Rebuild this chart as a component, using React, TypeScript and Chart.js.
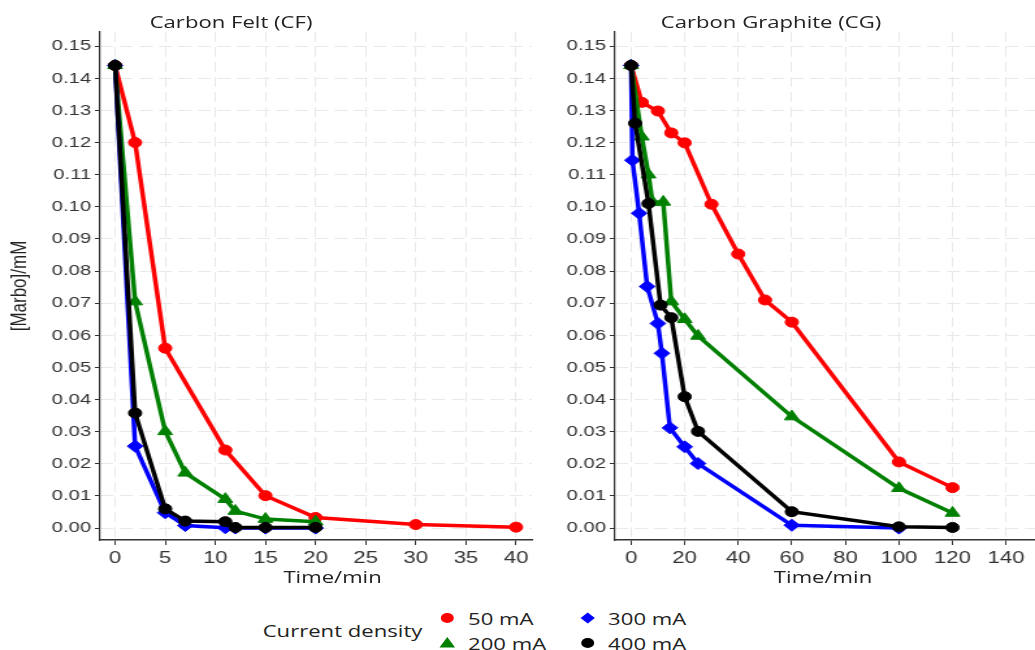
import React, { useEffect, useRef } from 'react';
import { Chart, registerables } from 'chart.js';

Chart.register(...registerables);

// horizontal stretch of the whole figure
const S = 1035 / 796;

// ---------- Carbon Felt (CF) ----------
const cfTime50 = [0, 2, 5, 11, 15, 20, 30, 40];
const cfVal50 = [0.144, 0.12, 0.056, 0.0243, 0.0101, 0.0033, 0.0011, 0.0003];
const cfTime200 = [0, 2, 5, 7, 11, 12, 15, 20];
const cfVal200 = [0.144, 0.0705, 0.0301, 0.0172, 0.009, 0.0053, 0.0028, 0.002];
const cfTime300 = [0, 2, 5, 7, 11, 12, 15, 20];
const cfVal300 = [0.144, 0.0255, 0.0048, 0.0008, 0.0001, 0, 0, 0];
const cfTime400 = [0, 2, 5, 7, 11, 12, 15, 20];
const cfVal400 = [0.144, 0.0358, 0.006, 0.0022, 0.002, 0.0002, 0.0002, 0.0002];

// ---------- Carbon Graphite (CG) ----------
const cgTime50 = [0, 4, 10, 15, 20, 30, 40, 50, 60, 100, 120];
const cgVal50 = [0.144, 0.1325, 0.1298, 0.123, 0.1199, 0.1008, 0.0853, 0.071, 0.0641, 0.0206, 0.0126];
const cgTime200 = [0, 4, 6.5, 8, 12, 15, 20, 25, 60, 100, 120];
const cgVal200 = [0.144, 0.1218, 0.11, 0.1015, 0.1015, 0.0705, 0.065, 0.0598, 0.0347, 0.0124, 0.0047];
const cgTime300 = [0, 0.5, 3, 6, 10, 11.5, 14.5, 20, 25, 60, 100];
const cgVal300 = [0.144, 0.1145, 0.098, 0.0752, 0.0637, 0.0544, 0.0312, 0.0253, 0.0201, 0.0009, 0];
const cgTime400 = [0, 1.5, 6.5, 11, 15, 20, 25, 60, 100, 120];
const cgVal400 = [0.144, 0.126, 0.101, 0.0694, 0.0655, 0.0409, 0.0301, 0.0051, 0.0004, 0.0002];

// ---------- ticks ----------
const yTickValues = [0, 0.01, 0.02, 0.03, 0.04, 0.05, 0.06, 0.07, 0.08, 0.09, 0.1, 0.11, 0.12, 0.13, 0.14, 0.15];
const cfXTicks = [0, 5, 10, 15, 20, 25, 30, 35, 40];
const cgXTicks = [0, 20, 40, 60, 80, 100, 120, 140];

const seriesNames = ['50 mA', '200 mA', '300 mA', '400 mA'];
const seriesColors = ['#ff0000', '#008000', '#0000ff', '#000000'];
const seriesShapes = ['circle', 'triangle', 'rectRot', 'circle'];
const seriesRadius = [5, 6.5, 6, 5];
const seriesOrder = [3, 2, 1, 0];

const panelTitles = ['Carbon Felt (CF)', 'Carbon Graphite (CG)'];
const xTitle = 'Time/min';
const yTitle = '[Marbo]/mM';
const legendTitle = 'Current density';

function buildDatasets(times: number[][], vals: number[][]) {
  return times.map((t, i) => ({
    label: seriesNames[i],
    data: t.map((x, j) => ({ x, y: vals[i][j] })),
    borderColor: seriesColors[i],
    backgroundColor: seriesColors[i],
    pointBackgroundColor: seriesColors[i],
    pointBorderColor: seriesColors[i],
    borderWidth: 3.5,
    pointStyle: seriesShapes[i],
    pointRadius: seriesRadius[i],
    pointBorderWidth: 1,
    tension: 0,
    fill: false,
    order: seriesOrder[i],
  }));
}

function makeConfig(opts: {
  times: number[][];
  vals: number[][];
  xTicks: number[];
  xMin: number;
  xMax: number;
  yWidth: number;
  padRight: number;
  showYTitle: boolean;
}): any {
  const tickFont = { family: 'Liberation Sans', size: 15.5 };
  return {
    type: 'line',
    data: { datasets: buildDatasets(opts.times, opts.vals) },
    options: {
      responsive: false,
      animation: false,
      events: [],
      layout: { autoPadding: false, padding: { top: 32, right: opts.padRight, left: 0, bottom: 0 } },
      plugins: { legend: { display: false }, tooltip: { enabled: false }, title: { display: false } },
      scales: {
        x: {
          type: 'linear',
          min: opts.xMin,
          max: opts.xMax,
          afterBuildTicks: (s: any) => {
            s.ticks = opts.xTicks.map((v) => ({ value: v }));
          },
          afterFit: (s: any) => {
            s.height = 60;
          },
          grid: { color: '#e9e9e9', lineWidth: 1, tickLength: 5, tickColor: '#333', tickWidth: 1 },
          border: { display: true, color: '#333', width: 1.5, dash: [10, 5] },
          ticks: {
            font: { family: 'Liberation Sans', size: 17 },
            color: '#333',
            padding: 3,
            maxRotation: 0,
            autoSkip: false,
          },
        },
        y: {
          type: 'linear',
          min: -0.0037,
          max: 0.1544,
          afterBuildTicks: (s: any) => {
            s.ticks = yTickValues.map((v) => ({ value: v }));
          },
          afterFit: (s: any) => {
            s.width = opts.yWidth;
          },
          grid: { color: '#e9e9e9', lineWidth: 1, tickLength: 4, tickColor: '#333', tickWidth: 1 },
          border: { display: true, color: '#333', width: 1.2, dash: [10, 5] },
          ticks: {
            font: tickFont,
            color: '#333',
            padding: 3,
            autoSkip: false,
            callback: (v: any) => Number(v).toFixed(2),
          },
          title: {
            display: opts.showYTitle,
            text: yTitle,
            font: { family: 'Liberation Sans', size: 17 },
            color: '#222',
            padding: { top: 5, bottom: 0 },
          },
        },
      },
    },
  };
}

function Marker({ shape, color, cx, cy }: { shape: string; color: string; cx: number; cy: number }) {
  const size = 16;
  let el: any;
  if (shape === 'circle') el = <circle cx={8} cy={8} r={5} fill={color} />;
  else if (shape === 'triangle') el = <polygon points="8,2 14,12.5 2,12.5" fill={color} />;
  else el = <polygon points="8,2.5 13.5,8 8,13.5 2.5,8" fill={color} />;
  return (
    <svg
      width={size}
      height={size}
      style={{ position: 'absolute', left: cx - 8, top: cy - 8 }}
      viewBox="0 0 16 16"
    >
      {el}
    </svg>
  );
}

const textFont = "'Open Sans', 'Noto Sans', sans-serif";

export default function App() {
  const leftRef = useRef<HTMLCanvasElement>(null);
  const rightRef = useRef<HTMLCanvasElement>(null);

  useEffect(() => {
    const left = new Chart(
      leftRef.current as HTMLCanvasElement,
      makeConfig({
        times: [cfTime50, cfTime200, cfTime300, cfTime400],
        vals: [cfVal50, cfVal200, cfVal300, cfVal400],
        xTicks: cfXTicks,
        xMin: -1.49,
        xMax: 41.57,
        yWidth: 77,
        padRight: 3,
        showYTitle: true,
      })
    );
    const right = new Chart(
      rightRef.current as HTMLCanvasElement,
      makeConfig({
        times: [cgTime50, cgTime200, cgTime300, cgTime400],
        vals: [cgVal50, cgVal200, cgVal300, cgVal400],
        xTicks: cgXTicks,
        xMin: -6.0,
        xMax: 150.8,
        yWidth: 61,
        padRight: 0,
        showYTitle: false,
      })
    );
    return () => {
      left.destroy();
      right.destroy();
    };
  }, []);

  const txt = (extra: any) => ({
    position: 'absolute' as const,
    fontFamily: textFont,
    fontSize: 17,
    lineHeight: '20px',
    color: '#222',
    whiteSpace: 'nowrap' as const,
    ...extra,
  });

  return (
    <div
      style={{
        position: 'fixed',
        left: 0,
        top: 0,
        width: 796,
        height: 650,
        overflow: 'hidden',
        background: '#ffffff',
        transform: `scaleX(${S})`,
        transformOrigin: '0 0',
      }}
    >
      <canvas
        ref={leftRef}
        width={412}
        height={600}
        style={{ position: 'absolute', left: 0, top: 0, width: 412, height: 600 }}
      />
      <canvas
        ref={rightRef}
        width={384}
        height={600}
        style={{ position: 'absolute', left: 412, top: 0, width: 384, height: 600 }}
      />
      <div style={txt({ left: 27.7, top: 11.5, width: 300, textAlign: 'center' })}>{panelTitles[0]}</div>
      <div style={txt({ left: 443, top: 11.5, width: 300, textAlign: 'center' })}>{panelTitles[1]}</div>
      <div style={txt({ left: 155.8, top: 567, width: 200, textAlign: 'center' })}>{xTitle}</div>
      <div style={txt({ left: 533, top: 567, width: 200, textAlign: 'center' })}>{xTitle}</div>

      <div style={txt({ left: 202, top: 620.5 })}>{legendTitle}</div>
      <Marker shape={seriesShapes[0]} color={seriesColors[0]} cx={343.8} cy={618} />
      <div style={txt({ left: 360, top: 608.5 })}>{seriesNames[0]}</div>
      <Marker shape={seriesShapes[2]} color={seriesColors[2]} cx={452.3} cy={618} />
      <div style={txt({ left: 467.7, top: 608.5 })}>{seriesNames[2]}</div>
      <Marker shape={seriesShapes[1]} color={seriesColors[1]} cx={343.8} cy={643} />
      <div style={txt({ left: 360, top: 633.5 })}>{seriesNames[1]}</div>
      <Marker shape={seriesShapes[3]} color={seriesColors[3]} cx={452.3} cy={643} />
      <div style={txt({ left: 467.7, top: 633.5 })}>{seriesNames[3]}</div>
    </div>
  );
}
